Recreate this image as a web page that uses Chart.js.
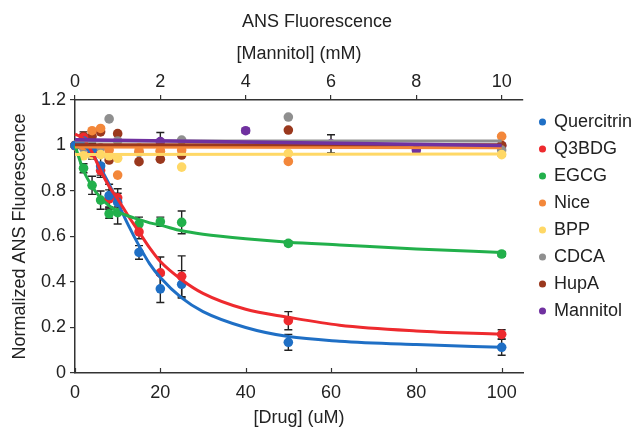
<!DOCTYPE html>
<html><head><meta charset="utf-8">
<script src="https://cdn.jsdelivr.net/npm/chart.js@4"></script>
<style>html,body{margin:0;padding:0;background:#fff}</style>
</head><body>
<canvas id="c" width="634" height="433"></canvas>
<script>
// ---- data ----
const drugConc = [0, 2, 4, 6, 8, 10, 15, 20, 25, 50, 100];          // uM
const mannitolConc = [0, 2, 4, 6, 8, 10];                           // mM (top axis)

const quercitrin    = [1.0, 1.02, 0.98, 0.91, 0.78, 0.75, 0.53, 0.37, 0.39, 0.135, 0.113];
const quercitrinErr = [0, 0.03, 0.03, 0.04, 0.05, 0.04, 0.03, 0.06, 0.06, 0.035, 0.035];
const q3bdg         = [1.0, 1.035, 0.97, 0.89, 0.765, 0.77, 0.62, 0.44, 0.425, 0.23, 0.17];
const q3bdgErr      = [0, 0.025, 0.03, 0.03, 0.04, 0.04, 0.03, 0.07, 0.09, 0.04, 0.02];
const egcg          = [1.0, 0.90, 0.825, 0.76, 0.70, 0.705, 0.655, 0.665, 0.662, 0.57, 0.523];
const egcgErr       = [0, 0.02, 0.04, 0.04, 0.02, 0.05, 0.03, 0.02, 0.05, 0.01, 0.01];
const nice          = [1.0, 1.0, 1.065, 1.075, 0.98, 0.87, 0.975, 0.975, 0.98, 0.93, 1.04];
const bpp           = [1.0, 0.955, 0.96, 0.96, 0.955, 0.944, 0.99, 0.975, 0.905, 0.965, 0.96];
const cdca          = [1.0, 0.99, 0.985, 0.99, 1.117, 1.02, 0.97, 0.976, 1.024, 1.125, 0.98];
const hupa          = [1.0, 1.04, 1.04, 1.06, 0.936, 1.052, 0.929, 0.94, 0.958, 1.068, 1.0];
const mannitol      = [1.0, 1.017, 1.065, 1.007, 0.98, 0.999];
const mannitolErr   = [0, 0.04, 0.01, 0.04, 0.01, 0.045];

// fitted curves
const fitConc        = [0, 2, 4, 6, 8, 10, 12.5, 15, 17.5, 20, 25, 30, 40, 50, 62, 80, 100];
const quercitrinFit  = [1.02, 1.0, 0.965, 0.90, 0.83, 0.75, 0.65, 0.56, 0.48, 0.42, 0.33, 0.27, 0.20, 0.16, 0.14, 0.125, 0.113];
const q3bdgFit       = [1.05, 1.03, 0.97, 0.89, 0.82, 0.765, 0.69, 0.62, 0.55, 0.49, 0.41, 0.35, 0.28, 0.245, 0.21, 0.185, 0.17];
const egcgFit        = [1.0, 0.89, 0.82, 0.77, 0.735, 0.71, 0.69, 0.675, 0.66, 0.65, 0.625, 0.61, 0.59, 0.575, 0.563, 0.545, 0.53];
const flatConc       = [0, 100];
const niceFit        = [0.993, 0.99];
const bppFit         = [0.96, 0.963];
const cdcaFit        = [1.02, 1.02];
const hupaFit        = [1.003, 1.003];
const mannitolFlatConc = [0, 10];
const mannitolFit    = [1.025, 1.0];

const xTicks = [0, 20, 40, 60, 80, 100];
const x2Ticks = [0, 2, 4, 6, 8, 10];
const yTicks = [0, 0.2, 0.4, 0.6, 0.8, 1, 1.2];

const C = {
  blue:'#1f6fc5', red:'#ee2a2e', green:'#22b04b', orange:'#f3873a',
  yellow:'#ffd866', gray:'#8f8f8f', brown:'#9a381d', purple:'#7031a0'
};

const pts = (xs, ys) => xs.map((x, i) => ({x, y: ys[i]}));

function pointSet(label, color, xs, ys, errs, axis) {
  return {type:'scatter', label, data: pts(xs, ys), errors: errs || null,
    xAxisID: axis || 'x', yAxisID:'y', showLine:false,
    backgroundColor: color, borderColor: color, pointRadius: 4.8, pointBorderWidth: 0,
    pointStyle:'circle', order: 20, clip: false, legendShow: true};
}
function lineSet(color, xs, ys, axis, width, order) {
  return {type:'line', label:'', data: pts(xs, ys), xAxisID: axis || 'x', yAxisID:'y',
    borderColor: color, backgroundColor: color, borderWidth: width || 3, pointRadius: 0,
    cubicInterpolationMode:'monotone', fill:false, order: order, clip:false, legendShow:false};
}

const datasets = [
  pointSet('Quercitrin', C.blue, drugConc, quercitrin, quercitrinErr),
  pointSet('Q3BDG', C.red, drugConc, q3bdg, q3bdgErr),
  pointSet('EGCG', C.green, drugConc, egcg, egcgErr),
  pointSet('Nice', C.orange, drugConc, nice),
  pointSet('BPP', C.yellow, drugConc, bpp),
  pointSet('CDCA', C.gray, drugConc, cdca),
  pointSet('HupA', C.brown, drugConc, hupa),
  pointSet('Mannitol', C.purple, mannitolConc, mannitol, mannitolErr, 'x2'),
  lineSet(C.blue, fitConc, quercitrinFit, 'x', 3, 9),
  lineSet(C.red, fitConc, q3bdgFit, 'x', 3, 8),
  lineSet(C.green, fitConc, egcgFit, 'x', 3, 7),
  lineSet(C.yellow, flatConc, bppFit, 'x', 3, 6),
  lineSet(C.orange, flatConc, niceFit, 'x', 3, 5),
  lineSet(C.gray, flatConc, cdcaFit, 'x', 3, 4),
  lineSet(C.brown, flatConc, hupaFit, 'x', 3, 3),
  lineSet(C.purple, mannitolFlatConc, mannitolFit, 'x2', 3.5, 2)
];

const AX = '#333';
const FONT = "'Liberation Sans', Arial, sans-serif";
Chart.defaults.font.family = FONT;
Chart.defaults.font.size = 18;
Chart.defaults.color = '#222';

const errorBars = {
  id:'errorBars',
  beforeDatasetsDraw(chart) {
    const ctx = chart.ctx, ys = chart.scales.y;
    chart.data.datasets.forEach((ds) => {
      if (!ds.errors) return;
      const xs = chart.scales[ds.xAxisID];
      ctx.save(); ctx.strokeStyle = '#222'; ctx.lineWidth = 1.4;
      ds.data.forEach((p, j) => {
        const e = ds.errors[j];
        if (!e) return;
        const px = xs.getPixelForValue(p.x);
        const t = ys.getPixelForValue(p.y + e), b = ys.getPixelForValue(p.y - e);
        ctx.beginPath();
        ctx.moveTo(px, t); ctx.lineTo(px, b);
        ctx.moveTo(px - 4, t); ctx.lineTo(px + 4, t);
        ctx.moveTo(px - 4, b); ctx.lineTo(px + 4, b);
        ctx.stroke();
      });
      ctx.restore();
    });
  },
  afterDraw(chart) {
    // inward tick marks on the bottom axis
    const ctx = chart.ctx, xs = chart.scales.x, yb = chart.chartArea.bottom;
    ctx.save(); ctx.strokeStyle = AX; ctx.lineWidth = 1.2;
    xTicks.forEach(v => {
      const px = Math.round(xs.getPixelForValue(v)) + 0.5;
      ctx.beginPath(); ctx.moveTo(px, yb); ctx.lineTo(px, yb - 5); ctx.stroke();
    });
    ctx.restore();
  },
  afterInit(chart) {
    const lg = chart.legend;
    if (!lg) return;
    const f = lg.fit.bind(lg);
    lg.fit = function() { f(); this.width = 111; };
    const d = lg.draw.bind(lg);
    lg.draw = function(a) { const c = this.ctx; c.save(); c.translate(8, 0); d(a); c.restore(); };
  }
};

new Chart(document.getElementById('c'), {
  data: { datasets },
  plugins: [errorBars],
  options: {
    responsive:false, animation:false, devicePixelRatio:1,
    layout:{ padding:0 },
    plugins: {
      tooltip:{enabled:false},
      title:{ display:true, text:'ANS Fluorescence', font:{size:18, weight:'normal'}, padding:{top:11, bottom:0}, color:'#222' },
      legend:{ position:'right', align:'center',
        labels:{ usePointStyle:true, pointStyle:'circle', boxWidth:5, boxHeight:5, padding:9,
          font:{size:18}, color:'#222',
          filter:(item, data) => data.datasets[item.datasetIndex].legendShow }
      }
    },
    scales: {
      x: { type:'linear', position:'bottom', min:0, max:105,
        afterBuildTicks: s => { s.ticks = xTicks.map(v => ({value:v})); },
        afterFit: s => { s.height = 60; },
        ticks:{ padding:9, color:'#222', font:{size:18} },
        grid:{ display:false, drawTicks:false },
        border:{ display:true, color:AX, width:1.5 },
        title:{ display:true, text:'[Drug] (uM)', font:{size:18}, padding:{top:0, bottom:4}, color:'#222' } },
      x2: { type:'linear', position:'top', min:0, max:10.5,
        afterBuildTicks: s => { s.ticks = x2Ticks.map(v => ({value:v})); },
        afterFit: s => { s.height = 67.4; },
        ticks:{ padding:2, color:'#222', font:{size:18} },
        grid:{ display:true, drawOnChartArea:false, drawTicks:true, tickLength:5, color:AX, lineWidth:1.2 },
        border:{ display:true, color:AX, width:1.5 },
        title:{ display:true, text:'[Mannitol] (mM)', font:{size:18}, padding:{top:10.6, bottom:0}, color:'#222' } },
      y: { type:'linear', position:'left', min:0, max:1.2,
        afterBuildTicks: s => { s.ticks = yTicks.map(v => ({value:v})); },
        afterFit: s => { s.width = 75; },
        ticks:{ padding:4, color:'#222', font:{size:18}, callback: v => String(+v.toFixed(1)) },
        grid:{ display:true, drawOnChartArea:false, drawTicks:true, tickLength:5, color:AX, lineWidth:1.2 },
        border:{ display:true, color:AX, width:1.5 },
        title:{ display:true, text:'Normalized ANS Fluorescence', font:{size:18}, padding:{top:9, bottom:0}, color:'#222' } }
    }
  }
});
</script>
</body></html>
